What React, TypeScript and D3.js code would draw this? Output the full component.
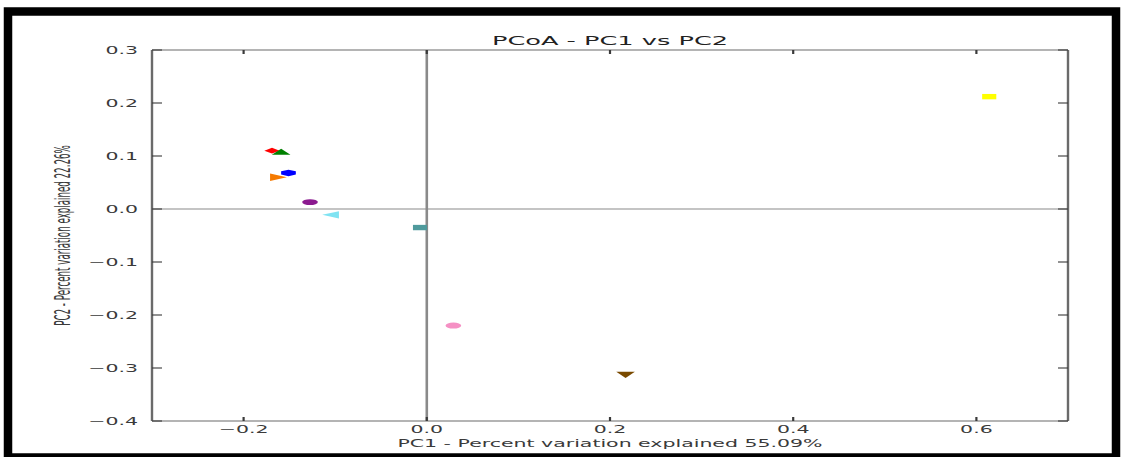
import React from 'react';
import * as d3 from 'd3';

// page size of the reference picture
const W = 1121;
const H = 457;
// the original figure was stretched sideways, so text and markers are too
const SX = 2.05;
const MSX = 2.5;
const MSY = 0.95;

const title = 'PCoA - PC1 vs PC2';
const xLabel = 'PC1 - Percent variation explained 55.09%';
const yLabel = 'PC2 - Percent variation explained 22.26%';

const xTicks = [-0.2, 0, 0.2, 0.4, 0.6];
const yTicks = [0.3, 0.2, 0.1, 0, -0.1, -0.2, -0.3, -0.4];

// sample coordinates
const pc1 = [-0.169, -0.159, -0.165, -0.151, -0.1275, -0.102, -0.0074, 0.029, 0.217, 0.614];
const pc2 = [0.11, 0.106, 0.06, 0.068, 0.013, -0.011, -0.035, -0.22, -0.311, 0.212];
const colors = ['#ff0000', '#008000', '#f57a00', '#0000ff', '#8b1a8f', '#7fe3f2', '#4f9a9c', '#f590c4', '#7a4a00', '#ffff00'];
const shapes = ['diamond', 'triUp', 'triRight', 'hexagon', 'circle', 'triLeft', 'square', 'circle', 'triDown', 'square'];

const hexagon = {
  draw(ctx: any, size: number) {
    const r = Math.sqrt(size / (1.5 * Math.sqrt(3)));
    for (let i = 0; i < 6; i++) {
      const a = (Math.PI / 3) * i + Math.PI / 6;
      if (i === 0) ctx.moveTo(r * Math.cos(a), r * Math.sin(a));
      else ctx.lineTo(r * Math.cos(a), r * Math.sin(a));
    }
    ctx.closePath();
  },
};

const markerDef: Record<string, { type: any; size: number; rot: number }> = {
  diamond: { type: d3.symbolDiamond2, size: 24, rot: 0 },
  triUp: { type: d3.symbolTriangle, size: 24, rot: 0 },
  triRight: { type: d3.symbolTriangle, size: 26, rot: 90 },
  triLeft: { type: d3.symbolTriangle, size: 26, rot: -90 },
  triDown: { type: d3.symbolTriangle, size: 24, rot: 180 },
  hexagon: { type: hexagon, size: 30, rot: 0 },
  circle: { type: d3.symbolCircle, size: 31, rot: 0 },
  square: { type: d3.symbolSquare, size: 32, rot: 0 },
};

const App = () => {
  const left = 152, right = 1068, top = 50, bottom = 421;
  const x = d3.scaleLinear().domain([-0.3, 0.7]).range([left, right]);
  const y = d3.scaleLinear().domain([-0.4, 0.3]).range([bottom, top]);
  const fmt = d3.format('.1f');
  const font = 'DejaVu Sans';
  const ink = '#3a3a3a';
  const axis = '#6a6a6a';

  return (
    <svg width={W} height={H} style={{ position: 'absolute', left: 0, top: 0, background: '#fff' }}>
      <rect x={8} y={11.5} width={1108} height={446} fill="#fff" stroke="#000" strokeWidth={8.5} />

      {/* zero lines */}
      <line x1={x(0)} x2={x(0)} y1={top} y2={bottom} stroke="#8a8a8a" strokeWidth={2.6} />
      <line x1={left} x2={right} y1={y(0)} y2={y(0)} stroke="#8a8a8a" strokeWidth={1.2} />

      {/* points */}
      {pc1.map((v, i) => {
        const m = markerDef[shapes[i]];
        const d = d3.symbol().type(m.type).size(m.size)() as string;
        return (
          <path
            key={i}
            d={d}
            fill={colors[i]}
            transform={`translate(${x(v)},${y(pc2[i])}) scale(${MSX},${MSY}) rotate(${m.rot})`}
          />
        );
      })}

      {/* frame */}
      <line x1={left} x2={right} y1={top} y2={top} stroke={axis} strokeWidth={1.2} />
      <line x1={left} x2={right} y1={bottom} y2={bottom} stroke={axis} strokeWidth={1.2} />
      <line x1={left} x2={left} y1={top} y2={bottom} stroke={axis} strokeWidth={2.4} />
      <line x1={right} x2={right} y1={top} y2={bottom} stroke={axis} strokeWidth={2.4} />

      {/* x ticks */}
      {xTicks.map((t) => (
        <g key={'x' + t}>
          <line x1={x(t)} x2={x(t)} y1={bottom} y2={bottom - 4} stroke={ink} strokeWidth={2.2} />
          <line x1={x(t)} x2={x(t)} y1={top} y2={top + 4} stroke={ink} strokeWidth={2.2} />
          <text
            transform={`translate(${x(t)},${bottom + 11.5}) scale(${SX},1)`}
            textAnchor="middle"
            fontFamily={font}
            fontSize={10}
            fill={ink}
          >
            {fmt(t)}
          </text>
        </g>
      ))}

      {/* y ticks */}
      {yTicks.map((t) => (
        <g key={'y' + t}>
          <line x1={left} x2={left + 10} y1={y(t)} y2={y(t)} stroke={ink} strokeWidth={1.1} />
          <line x1={right} x2={right - 10} y1={y(t)} y2={y(t)} stroke={ink} strokeWidth={1.1} />
          <text
            transform={`translate(${left - 14},${y(t) + 3.6}) scale(${SX},1)`}
            textAnchor="end"
            fontFamily={font}
            fontSize={10}
            fill={ink}
          >
            {fmt(t)}
          </text>
        </g>
      ))}

      <text
        transform={`translate(${(left + right) / 2},45) scale(${SX},1)`}
        textAnchor="middle"
        fontFamily={font}
        fontSize={12.5}
        fill="#222"
      >
        {title}
      </text>
      <text
        transform={`translate(${(left + right) / 2},447) scale(${SX},1)`}
        textAnchor="middle"
        fontFamily={font}
        fontSize={10}
        fill={ink}
      >
        {xLabel}
      </text>
      <text
        transform={`translate(70,${(top + bottom) / 2}) rotate(-90) scale(0.87,${SX})`}
        textAnchor="middle"
        fontFamily={font}
        fontSize={10}
        fill={ink}
      >
        {yLabel}
      </text>
    </svg>
  );
};

export default App;
